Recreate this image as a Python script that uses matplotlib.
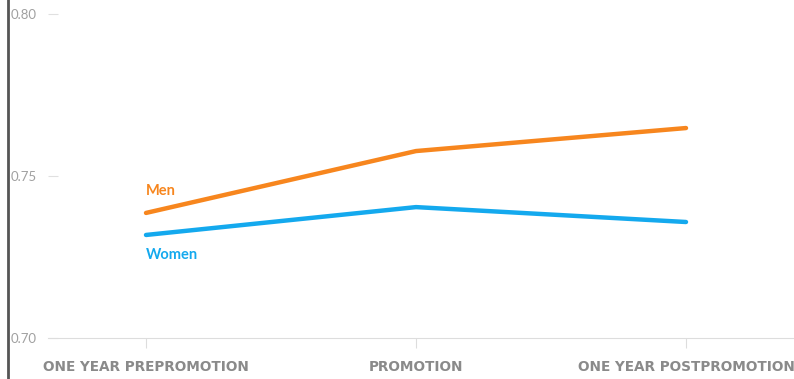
import matplotlib.pyplot as plt
from matplotlib.lines import Line2D

stages = ["ONE YEAR PREPROMOTION", "PROMOTION", "ONE YEAR POSTPROMOTION"]
men = [0.7386, 0.7577, 0.7648]
women = [0.7318, 0.7404, 0.7358]
yticks = [0.70, 0.75, 0.80]

plt.rcParams['font.family'] = ['Lato', 'DejaVu Sans']

fig = plt.figure(figsize=(7.94, 3.79), dpi=100)
W, H = 794, 379
ax = fig.add_axes([48 / W, (H - 338) / H, (794 - 48) / W, 338 / H])

x = range(len(stages))
ax.plot(x, men, color="#f7861e", lw=3.2, solid_capstyle="round")
ax.plot(x, women, color="#14a9ee", lw=3.2, solid_capstyle="round")

ax.text(0, men[0] + 0.0068, "Men", color="#f7861e", fontsize=10.5,
        fontweight="bold", ha="left", va="center")
ax.text(0, women[0] - 0.0062, "Women", color="#14a9ee", fontsize=10.5,
        fontweight="bold", ha="left", va="center")

ax.set_xlim(-98 / 270, 2 + 108 / 270)
ax.set_ylim(0.70, 0.70 + 338 / 3240)
ax.set_xticks(list(x))
ax.set_xticklabels(stages, fontsize=9.85, fontweight="bold", color="#8a8a8a",
                   family=["DejaVu Sans"])
ax.set_yticks(yticks)
ax.set_yticklabels([f"{v:.2f}" for v in yticks], fontsize=9.5, color="#a0a0a0")

for s in ["top", "right", "left"]:
    ax.spines[s].set_visible(False)
ax.spines["bottom"].set_color("#dddddd")
ax.tick_params(axis="y", direction="in", length=7, color="#e0e0e0", pad=8)
ax.tick_params(axis="x", direction="out", length=7, color="#dddddd", pad=9)

fig.add_artist(Line2D([7.5 / W, 7.5 / W], [0, 1], color="#555555", lw=2,
                      transform=fig.transFigure))

fig.savefig("out.png", dpi=100)
